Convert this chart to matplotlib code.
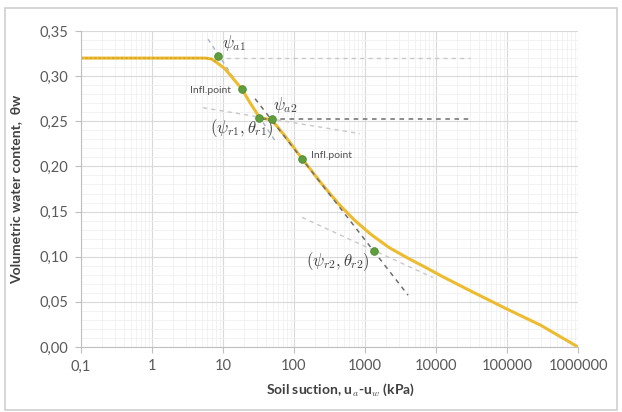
import numpy as np
import matplotlib
matplotlib.use('Agg')
import matplotlib.pyplot as plt
from matplotlib.patches import Rectangle
from matplotlib.ticker import FixedLocator, FuncFormatter

# Soil-water characteristic curve (suction in kPa, volumetric water content)
curve_x = [0.1, 1, 5.6, 6.9, 8.2, 10.7, 18.5, 24, 32.5, 40, 49, 75, 131,
           250, 420, 700, 1200, 2200, 4000, 7000, 12000, 30000, 100000, 300000, 1000000]
curve_y = [0.320, 0.320, 0.320, 0.319, 0.315, 0.308, 0.2856, 0.2706, 0.2545,
           0.2528, 0.2512, 0.2335, 0.2083, 0.180, 0.159, 0.141, 0.125, 0.110,
           0.0985, 0.0885, 0.0785, 0.0625, 0.042, 0.024, 0.0]

# characteristic points: psi_a1, infl.1, (psi_r1, theta_r1), psi_a2, infl.2, (psi_r2, theta_r2)
pt_x = [8.5, 18.5, 32.5, 49, 131, 1340]
pt_y = [0.3224, 0.2856, 0.2536, 0.2525, 0.2083, 0.106]

# construction lines (start, end)
tan1_x, tan1_y = [6.15, 54], [0.341, 0.2286]
tan2_x, tan2_y = [28.3, 4040], [0.275, 0.0574]
hor1_x, hor1_y = [8.5, 30000], [0.3206, 0.3206]
hor2_x, hor2_y = [35, 30000], [0.2525, 0.2525]
res1_x, res1_y = [5.23, 851], [0.265, 0.2363]
res2_x, res2_y = [130, 9000], [0.1435, 0.077]

x_ticks = [0.1, 1, 10, 100, 1000, 10000, 100000, 1000000]
x_labels = ['0,1', '1', '10', '100', '1000', '10000', '100000', '1000000']
y_ticks = [0.0, 0.05, 0.10, 0.15, 0.20, 0.25, 0.30, 0.35]

plt.rcParams['font.family'] = ['Lato', 'DejaVu Sans']
plt.rcParams['mathtext.fontset'] = 'cm'

W, H = 622, 412
fig = plt.figure(figsize=(W / 100, H / 100), dpi=100)
fig.patch.set_facecolor('white')
ax = fig.add_axes([81 / W, 1 - 347 / H, (578 - 81) / W, (347 - 31) / H])

# chart frame
fig.patches.append(Rectangle((5 / W, 2 / H), 612 / W, 402 / H, transform=fig.transFigure,
                             fill=False, ec='#CFCFCF', lw=1.2))

ax.set_xscale('log')
ax.set_xlim(0.1, 1000000)
ax.set_ylim(0, 0.35)

# gridlines
ax.xaxis.set_major_locator(FixedLocator(x_ticks))
ax.xaxis.set_minor_locator(FixedLocator(
    [m * d for d in x_ticks[:-1] for m in range(2, 10)]))
ax.yaxis.set_major_locator(FixedLocator(y_ticks))
ax.yaxis.set_minor_locator(FixedLocator(np.arange(0.01, 0.35, 0.01)))
ax.grid(which='major', color='#D9D9D9', lw=0.8)
ax.grid(which='minor', color='#F0F0F0', lw=0.6)
ax.set_axisbelow(True)

ax.xaxis.set_major_formatter(FuncFormatter(lambda v, p: x_labels[x_ticks.index(v)] if v in x_ticks else ''))
ax.yaxis.set_major_formatter(FuncFormatter(lambda v, p: f'{v:.2f}'.replace('.', ',')))
ax.xaxis.set_minor_formatter(FuncFormatter(lambda v, p: ''))

for s in ['top', 'right']:
    ax.spines[s].set_visible(False)
for s in ['left', 'bottom']:
    ax.spines[s].set_color('#BFBFBF')
ax.tick_params(which='major', length=4, color='#BFBFBF', labelsize=10.5, labelcolor='#595959', pad=5)
ax.tick_params(which='minor', length=0)

# construction lines
ax.plot(hor1_x, hor1_y, ls=(0, (3, 3)), color='#C8C8C8', lw=1.0)
ax.plot(res1_x, res1_y, ls=(0, (3, 3)), color='#C8C8C8', lw=1.0)
ax.plot(res2_x, res2_y, ls=(0, (3, 3)), color='#C8C8C8', lw=1.0)
ax.plot(tan1_x, tan1_y, ls=(0, (3, 3)), color='#A9B4C2', lw=1.0)

# curve
ax.plot(curve_x, curve_y, color='#EDBB2F', lw=2.2, solid_capstyle='butt', solid_joinstyle='round')
ax.plot(curve_x[:5], curve_y[:5], ls=(0, (2, 2)), color='#C99A1E', lw=0.8)

ax.plot(hor2_x, hor2_y, ls=(0, (3, 3)), color='#6E6E6E', lw=1.1)
ax.plot(tan2_x, tan2_y, ls=(0, (3, 3)), color='#6E6E6E', lw=1.1)

ax.plot(pt_x, pt_y, 'o', color='#5E9E3C', ms=5.5, mec='#4C8A2E', mew=0.6, zorder=5)

# annotations
mcol = '#404040'
ax.text(9.7, 0.3368, r'$\psi_{a1}$', fontsize=12, color=mcol, ha='left', va='center')
ax.text(50.6, 0.2683, r'$\psi_{a2}$', fontsize=12, color=mcol, ha='left', va='center')
ax.text(18.3, 0.2418, r'$(\psi_{r1},\theta_{r1})$', fontsize=12, color=mcol, ha='center', va='center')
ax.text(417, 0.0942, r'$(\psi_{r2},\theta_{r2})$', fontsize=12, color=mcol, ha='center', va='center')
ax.text(13, 0.2838, 'Infl.point', fontsize=7.5, color='#505050', ha='right', va='center')
ax.text(173, 0.212, 'Infl.point', fontsize=7.5, color='#505050', ha='left', va='center')

ax.set_ylabel('Volumetric water content,  θw', fontsize=10, fontweight='bold', color='#404040')
ax.yaxis.set_label_coords(-0.118, 0.5)
fig.text(341 / W, 1 - 390 / H, r'Soil suction, u$_a$-u$_w$ (kPa)', fontsize=10,
         fontweight='bold', color='#404040', ha='center', va='center')

fig.savefig('out.png', dpi=100, facecolor='white')
